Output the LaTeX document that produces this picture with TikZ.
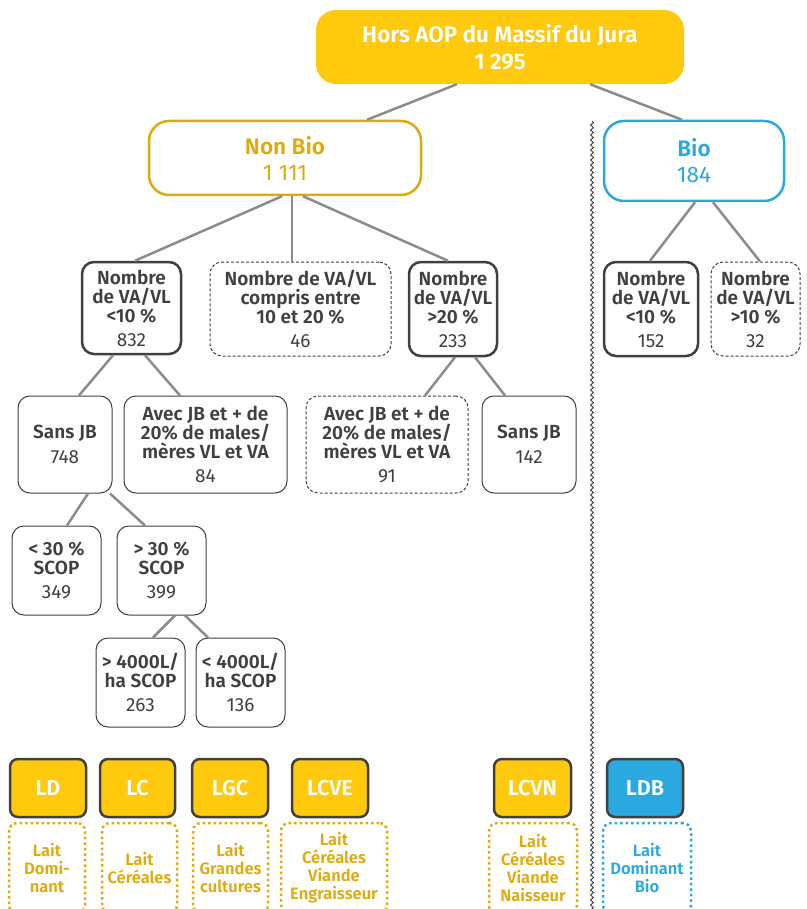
\documentclass[tikz,border=0pt]{standalone}
\usepackage{fontspec}
\setmainfont{Fira Sans}[BoldFont={Fira Sans SemiBold}]
\usetikzlibrary{decorations.pathmorphing}

\definecolor{yel}{HTML}{FFC90E}
\definecolor{gold}{HTML}{E0A90C}
\definecolor{blu}{HTML}{29A9E0}
\definecolor{ink}{HTML}{404040}
\definecolor{wire}{HTML}{8C8C8C}

\newcommand{\fs}[2]{\fontsize{#1}{#2}\selectfont}

\tikzset{
  box/.style={rounded corners=12pt, inner sep=0pt, align=center, text=ink, draw=ink,
    font=\fs{19}{19}},
  thickbox/.style={box, line width=2.5pt},
  thinbox/.style={box, line width=1pt},
  dashbox/.style={box, line width=1pt, dash pattern=on 3pt off 2pt},
  conn/.style={draw=wire, line width=2.5pt},
  codebox/.style={rounded corners=8pt, inner sep=0pt, draw=ink, line width=2.5pt,
    text=white, font=\bfseries\fs{21.5}{24}, minimum width=#1, minimum height=58pt},
  lblbox/.style={rounded corners=8pt, inner sep=0pt, line width=2.5pt,
    dash pattern=on 2.5pt off 3pt, align=center, font=\bfseries\fs{16.5}{18},
    minimum width=#1, minimum height=90pt},
}

\begin{document}
\begin{tikzpicture}[x=1pt,y=-1pt]
\clip (0,0) rectangle (806,909);
\fill[white] (0,0) rectangle (806,909);

% separator between non organic and organic farms
\draw[ink, line width=0.9pt, decorate,
      decoration={snake, amplitude=1.5pt, segment length=5pt}]
  (592,121) -- (592,912);

% root and first split
\node[rounded corners=20pt, fill=yel, text=white, align=center,
      minimum width=368pt, minimum height=74pt, inner sep=0pt,
      font=\bfseries\fs{22.5}{27}] (top) at (500,47)
  {Hors AOP du Massif du Jura\\1 295};
\node[rounded corners=20pt, draw=gold, line width=2.5pt, text=gold, align=center,
      minimum width=272pt, minimum height=74pt, inner sep=0pt,
      font=\fs{22.5}{26}] (nonbio) at (285,158)
  {\textbf{Non Bio}\\1 111};
\node[rounded corners=20pt, draw=blu, line width=2.5pt, text=blu, align=center,
      minimum width=180pt, minimum height=80pt, inner sep=0pt,
      font=\fs{22.5}{26}] (bio) at (694,161)
  {\textbf{Bio}\\184};

% non organic branch
\node[thickbox, minimum width=99pt, minimum height=92pt] (n832) at (131.5,308)
  {\textbf{Nombre}\\\textbf{de VA/VL}\\\textbf{<10 \%}\\[5pt]832};
\node[dashbox, minimum width=181pt, minimum height=94pt] (n46) at (300.5,309)
  {\textbf{Nombre de VA/VL}\\\textbf{compris entre}\\\textbf{10 et 20 \%}\\[5pt]46};
\node[thickbox, minimum width=88pt, minimum height=94pt] (n233) at (453,309)
  {\textbf{Nombre}\\\textbf{de VA/VL}\\\textbf{>20 \%}\\[5pt]233};

\node[thinbox, minimum width=94pt, minimum height=97pt] (sjb748) at (65,444.5)
  {\textbf{Sans JB}\\[6pt]748};
\node[thinbox, minimum width=163pt, minimum height=97pt] (ajb84) at (205.5,444.5)
  {\textbf{Avec JB et + de}\\\textbf{20\% de males/}\\\textbf{mères VL et VA}\\[5pt]84};
\node[dashbox, minimum width=162pt, minimum height=97pt] (ajb91) at (387,444.5)
  {\textbf{Avec JB et + de}\\\textbf{20\% de males/}\\\textbf{mères VL et VA}\\[5pt]91};
\node[thinbox, minimum width=94pt, minimum height=97pt] (sjb142) at (529,444.5)
  {\textbf{Sans JB}\\[6pt]142};

\node[thinbox, minimum width=89pt, minimum height=89pt] (s349) at (56.5,570.5)
  {\textbf{< 30 \%}\\\textbf{SCOP}\\[5pt]349};
\node[thinbox, minimum width=89pt, minimum height=89pt] (s399) at (161.5,570.5)
  {\textbf{> 30 \%}\\\textbf{SCOP}\\[5pt]399};
\node[thinbox, minimum width=89pt, minimum height=89pt] (h263) at (140.5,682.5)
  {\textbf{> 4000L/}\\\textbf{ha SCOP}\\[5pt]263};
\node[thinbox, minimum width=89pt, minimum height=89pt] (h136) at (240.5,682.5)
  {\textbf{< 4000L/}\\\textbf{ha SCOP}\\[5pt]136};

% organic branch
\node[thickbox, minimum width=94pt, minimum height=94pt] (b152) at (651,309)
  {\textbf{Nombre}\\\textbf{de VA/VL}\\\textbf{<10 \%}\\[5pt]152};
\node[dashbox, minimum width=89pt, minimum height=94pt] (b32) at (755.5,309)
  {\textbf{Nombre}\\\textbf{de VA/VL}\\\textbf{>10 \%}\\[5pt]32};

% connectors
\draw[conn] ([xshift=-43pt]top.south) -- ([xshift=82pt]nonbio.north);
\draw[conn] ([xshift=90pt]top.south) -- ([xshift=-12pt]bio.north);
\draw[conn] ([xshift=-3pt]nonbio.south) -- ([xshift=3.5pt]n832.north);
\draw[conn] ([xshift=7pt]nonbio.south) -- ([xshift=7pt]nonbio.south |- n46.north);
\draw[conn] ([xshift=18pt]nonbio.south) -- ([xshift=-5pt]n233.north);
\draw[conn] ([xshift=-18.5pt]n832.south) -- ([xshift=14pt]sjb748.north);
\draw[conn] ([xshift=13.5pt]n832.south) -- ([xshift=-25.5pt]ajb84.north);
\draw[conn] ([xshift=2pt]n233.south) -- ([xshift=38pt]ajb91.north);
\draw[conn] ([xshift=22pt]n233.south) -- ([xshift=-24pt]sjb142.north);
\draw[conn] ([xshift=23pt]sjb748.south) -- ([xshift=10.5pt]s349.north);
\draw[conn] ([xshift=45pt]sjb748.south) -- ([xshift=-16.5pt]s399.north);
\draw[conn] ([xshift=13.5pt]s399.south) -- ([xshift=12.5pt]h263.north);
\draw[conn] ([xshift=23.5pt]s399.south) -- ([xshift=-32.5pt]h136.north);
\draw[conn] ([xshift=1pt]bio.south) -- ([xshift=-1pt]b152.north);
\draw[conn] ([xshift=19pt]bio.south) -- ([xshift=4.5pt]b32.north);

% farm type codes
\node[codebox=76pt, fill=yel] (ld) at (48,788) {LD};
\node[codebox=75pt, fill=yel] (lc) at (137.5,788) {LC};
\node[codebox=76pt, fill=yel] (lgc) at (230,788) {LGC};
\node[codebox=76pt, fill=yel] (lcve) at (330,788) {LCVE};
\node[codebox=77pt, fill=yel] (lcvn) at (532.5,788) {LCVN};
\node[codebox=76pt, fill=blu] (ldb) at (645,788) {LDB};

% farm type names
\node[lblbox=76pt, draw=gold, text=gold] (ld-l) at (47,868) {Lait\\Domi-\\nant};
\node[lblbox=75pt, draw=gold, text=gold] (lc-l) at (139.5,868) {Lait\\Céréales};
\node[lblbox=75pt, draw=gold, text=gold] (lgc-l) at (230.5,868) {Lait\\Grandes\\cultures};
\node[lblbox=106pt, draw=gold, text=gold] (lcve-l) at (334,868) {Lait\\Céréales\\Viande\\Engraisseur};
\node[lblbox=88pt, draw=gold, text=gold] (lcvn-l) at (533,868) {Lait\\Céréales\\Viande\\Naisseur};
\node[lblbox=88pt, draw=blu, text=blu] (ldb-l) at (647,868) {Lait\\Dominant\\Bio};
\end{tikzpicture}
\end{document}
